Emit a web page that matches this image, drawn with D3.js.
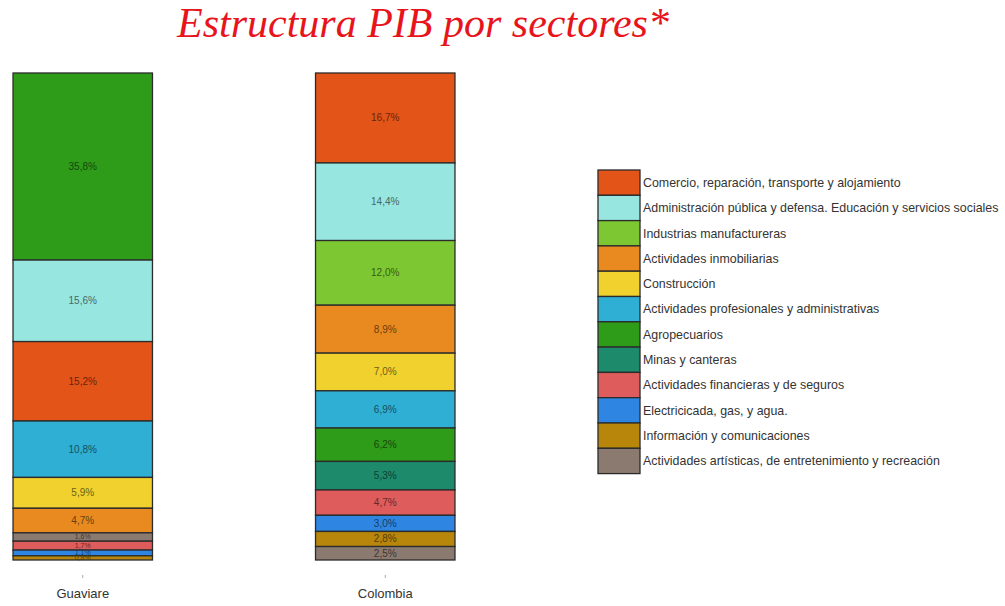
<!DOCTYPE html>
<html>
<head>
<meta charset="utf-8">
<script src="https://cdn.jsdelivr.net/npm/d3@7"></script>
<style>
  body { margin: 0; background: #fff; }
  svg { font-family: "Liberation Sans", Arial, sans-serif; }
</style>
</head>
<body>
<div class="chart"></div>
<script>
// sectors, in legend order
var sectors = [
  "Comercio, reparación, transporte y alojamiento",
  "Administración pública y defensa. Educación y servicios sociales",
  "Industrias manufactureras",
  "Actividades inmobiliarias",
  "Construcción",
  "Actividades profesionales y  administrativas",
  "Agropecuarios",
  "Minas y canteras",
  "Actividades financieras y de seguros",
  "Electricicada, gas, y agua.",
  "Información y comunicaciones",
  "Actividades artísticas, de entretenimiento y recreación"
];
var sectorColors = ["#e35419", "#98e6e0", "#7dc832", "#e88a1f", "#f1d12e", "#2fafd3",
                    "#2f9c19", "#1d8a6c", "#de5c5c", "#2f86e2", "#b8860b", "#8b7a70"];

var regions = ["Guaviare", "Colombia"];

// stacking order (top to bottom) and shares, per region
var guaviareOrder = [6, 1, 0, 5, 4, 3, 11, 8, 9, 10];
var guaviareValues = [35.8, 15.6, 15.2, 10.8, 5.9, 4.7, 1.6, 1.7, 1.1, 0.8];

var colombiaOrder = [0, 1, 2, 3, 4, 5, 6, 7, 8, 9, 10, 11];
var colombiaValues = [16.7, 14.4, 12.0, 8.9, 7.0, 6.9, 6.2, 5.3, 4.7, 3.0, 2.8, 2.5];

var W = 1005, H = 606;

var svg = d3.select(".chart")
    .append("svg")
    .attr("width", W)
    .attr("height", H);

// title
svg.append("text")
    .attr("x", 423)
    .attr("y", 37)
    .attr("text-anchor", "middle")
    .style("font-family", "'Liberation Serif', 'Times New Roman', serif")
    .style("font-style", "italic")
    .style("font-size", "42px")
    .style("fill", "#e8141c")
    .text("Estructura PIB por sectores*");

// scales
var x = d3.scaleBand()
    .domain(regions)
    .range([-68.5, 536.5])
    .paddingInner(0.539)
    .paddingOuter(0.2695);

var y = d3.scaleLinear().domain([0, 1]).range([560, 73]);

// build stacked segments (each bar filled to its own total)
function buildSegments(region, order, values) {
  var total = d3.sum(values);
  var acc = 0;
  return order.map(function(s, i) {
    var seg = {region: region, sector: s, value: values[i],
               y1: 1 - acc / total, y0: 1 - (acc + values[i]) / total};
    acc += values[i];
    return seg;
  });
}

var segments = buildSegments("Guaviare", guaviareOrder, guaviareValues)
    .concat(buildSegments("Colombia", colombiaOrder, colombiaValues));

var plot = svg.append("g");

plot.selectAll(".seg")
    .data(segments)
  .enter().append("rect")
    .classed("seg", true)
    .attr("x", function(d) { return x(d.region); })
    .attr("width", x.bandwidth())
    .attr("y", function(d) { return y(d.y1); })
    .attr("height", function(d) { return y(d.y0) - y(d.y1); })
    .style("fill", function(d) { return sectorColors[d.sector]; })
    .style("stroke", "#2b2b2b")
    .style("stroke-width", 1.3);

// labels; thin segments get a smaller font
plot.selectAll(".lbl")
    .data(segments)
  .enter().append("text")
    .classed("lbl", true)
    .attr("x", function(d) { return x(d.region) + x.bandwidth() / 2; })
    .attr("y", function(d) { return (y(d.y0) + y(d.y1)) / 2; })
    .attr("dy", "0.35em")
    .attr("text-anchor", "middle")
    .style("font-size", function(d) { return (y(d.y0) - y(d.y1)) < 9 ? "7px" : "10px"; })
    .style("fill", function(d) { return d3.color(sectorColors[d.sector]).darker(2.2); })
    .text(function(d) { return d.value.toFixed(1).replace(".", ",") + "%"; });

// x axis
var xAxis = svg.append("g")
    .attr("transform", "translate(0,575)")
    .call(d3.axisBottom(x).tickSize(3).tickPadding(11));
xAxis.select(".domain").remove();
xAxis.selectAll(".tick line").style("stroke", "#aaa");
xAxis.selectAll("text")
    .style("font-size", "13px")
    .style("fill", "#333")
    .style("font-family", "'Liberation Sans', Arial, sans-serif");

// legend
var legend = svg.append("g").attr("transform", "translate(598,170)");
var rowH = 25.3;

var items = legend.selectAll(".item")
    .data(sectors)
  .enter().append("g")
    .classed("item", true)
    .attr("transform", function(d, i) { return "translate(0," + i * rowH + ")"; });

items.append("rect")
    .attr("width", 42)
    .attr("height", rowH)
    .style("fill", function(d, i) { return sectorColors[i]; })
    .style("stroke", "#2b2b2b")
    .style("stroke-width", 1.3);

items.append("text")
    .attr("x", 45)
    .attr("y", rowH / 2)
    .attr("dy", "0.35em")
    .style("font-size", "12.4px")
    .style("fill", "#333")
    .text(function(d) { return d; });
</script>
</body>
</html>
